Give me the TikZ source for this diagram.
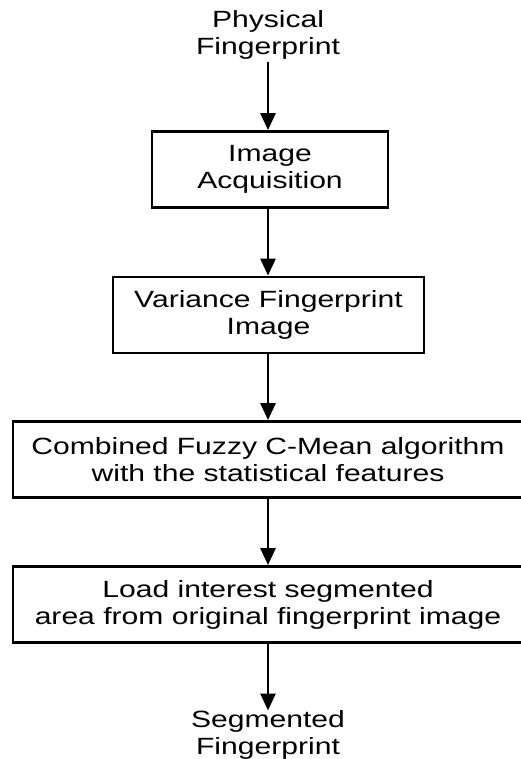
\documentclass[tikz,border=0pt]{standalone}
\usepackage{fontspec}
\setmainfont{Liberation Sans}[FakeStretch=1.28]
\usetikzlibrary{arrows.meta}
\begin{document}
\begin{tikzpicture}[x=1pt,y=-1pt,
  every node/.style={font=\fontsize{23.5}{27}\selectfont, align=center},
  stepbox/.style={draw, line width=2.8pt, inner sep=0pt, minimum height=76pt},
  flow/.style={line width=2.8pt, -{Triangle[width=15pt,length=17pt]}},
  lbl/.style={inner sep=0pt}]
\useasboundingbox (0,0) rectangle (521,759);
\node[lbl, anchor=south] (src) at (268,60) {Physical\\Fingerprint};
\node[stepbox, minimum width=236pt] (b1) at (270,169.5) {Image\\Acquisition};
\node[stepbox, minimum width=311pt] (b2) at (268.5,315) {Variance Fingerprint\\Image};
\node[stepbox, minimum width=510pt] (b3) at (268,459.5) {Combined Fuzzy C-Mean algorithm\\with the statistical features};
\node[stepbox, minimum width=510pt] (b4) at (268,604.5) {Load interest segmented\\area from original fingerprint image};
\node[lbl, anchor=north] (dst) at (268,710.5) {Segmented\\Fingerprint};
\coordinate (s0) at (268,62);
\draw[flow] (s0) -- (b1.north -| s0);
\draw[flow] (b1.south -| s0) -- (b2.north -| s0);
\draw[flow] (b2.south -| s0) -- (b3.north -| s0);
\draw[flow] (b3.south -| s0) -- (b4.north -| s0);
\draw[flow] (b4.south -| s0) -- (dst.north -| s0);
\end{tikzpicture}
\end{document}
